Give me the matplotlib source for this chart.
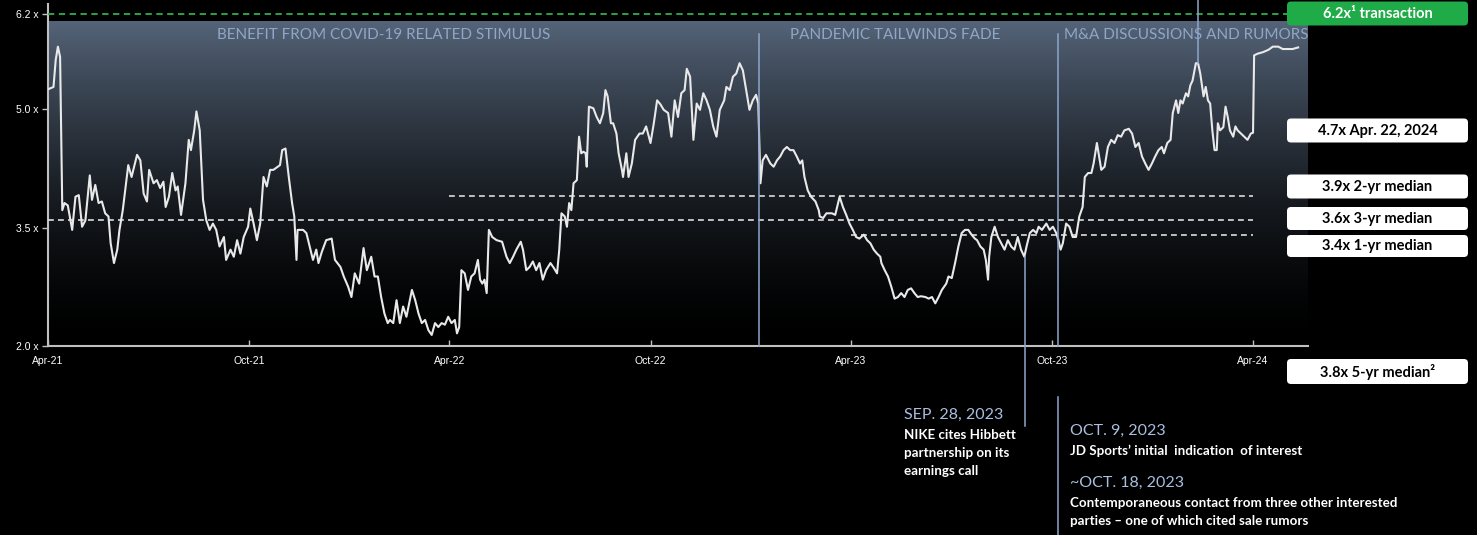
import matplotlib
matplotlib.use("Agg")
import matplotlib.pyplot as plt
import matplotlib.dates as mdates
from matplotlib.patches import FancyBboxPatch
import numpy as np
import pandas as pd

# EV / EBITDA multiple, days counted from 22-Apr-2021
start = pd.Timestamp("2021-04-22")
days = [
    0, 5, 7, 9, 11, 13, 15, 18, 22, 25, 28, 31, 34, 38, 40, 43, 46, 49, 52, 55,
    57, 60, 63, 65, 68, 73, 76, 81, 84, 87, 90, 92, 96, 99, 102, 105, 107, 110, 113, 116,
    118, 121, 125, 128, 130, 133, 135, 138, 141, 144, 147, 150, 153, 156, 160, 162, 166, 169, 172, 175,
    178, 182, 184, 187, 190, 193, 196, 199, 202, 205, 209, 211, 213, 216, 219, 222, 224, 226, 227, 232,
    235, 238, 241, 244, 246, 249, 253, 258, 261, 266, 269, 273, 276, 279, 283, 287, 290, 294, 297, 300,
    303, 306, 309, 311, 314, 317, 320, 323, 326, 331, 334, 337, 340, 343, 346, 349, 352, 355, 358, 361,
    364, 367, 370, 372, 374, 376, 379, 382, 385, 388, 391, 393, 395, 397, 399, 401, 404, 408, 413, 417,
    420, 423, 426, 430, 432, 435, 438, 441, 444, 447, 450, 453, 457, 460, 463, 465, 467, 470, 472, 474,
    476, 478, 481, 483, 485, 487, 489, 490, 492, 496, 499, 502, 505, 507, 509, 512, 514, 517, 519, 522,
    523, 526, 528, 531, 534, 538, 541, 544, 548, 551, 554, 557, 560, 564, 567, 570, 573, 576, 579, 581,
    584, 587, 590, 593, 596, 599, 602, 605, 608, 611, 615, 617, 620, 623, 626, 629, 632, 635, 638, 641,
    644, 646, 648, 650, 653, 657, 660, 663, 666, 669, 672, 675, 678, 681, 684, 686, 688, 691, 694, 698,
    701, 702, 705, 708, 713, 716, 720, 723, 726, 729, 732, 735, 738, 742, 745, 748, 751, 754, 757, 758,
    761, 764, 767, 770, 773, 776, 779, 782, 785, 788, 791, 794, 798, 801, 804, 807, 810, 813, 817, 819,
    822, 825, 828, 831, 834, 837, 840, 843, 845, 848, 851, 853, 855, 856, 858, 861, 864, 867, 870, 873,
    876, 879, 882, 885, 888, 890, 893, 896, 899, 901, 904, 908, 911, 914, 917, 919, 921, 923, 926, 929,
    932, 935, 938, 941, 943, 946, 949, 951, 954, 956, 958, 961, 964, 967, 970, 973, 976, 979, 983, 986,
    989, 992, 995, 998, 1001, 1004, 1007, 1010, 1013, 1015, 1018, 1021, 1023, 1026, 1028, 1030, 1032, 1035, 1037, 1039,
    1041, 1044, 1046, 1048, 1051, 1053, 1055, 1057, 1059, 1061, 1063, 1064, 1066, 1069, 1071, 1073, 1075, 1078, 1080, 1082,
    1085, 1088, 1091, 1094, 1096, 1097, 1100, 1105, 1110, 1114, 1119, 1123, 1128, 1132, 1137,
]
multiple = [
    5.25, 5.28, 5.62, 5.79, 5.66, 3.72, 3.81, 3.78, 3.47, 3.89, 3.91, 3.51, 3.59, 4.16, 3.85, 4.04, 3.81, 3.83, 3.68, 3.64,
    3.30, 3.05, 3.22, 3.47, 3.72, 4.29, 4.14, 4.42, 4.35, 3.93, 3.83, 4.23, 4.06, 4.10, 4.00, 4.08, 3.76, 3.89, 4.19, 3.97,
    4.02, 3.66, 4.06, 4.61, 4.48, 4.73, 4.97, 4.73, 3.85, 3.59, 3.47, 3.55, 3.47, 3.26, 3.38, 3.09, 3.22, 3.13, 3.34, 3.17,
    3.38, 3.51, 3.74, 3.55, 3.34, 3.55, 4.14, 4.02, 4.23, 4.23, 4.27, 4.29, 4.48, 4.50, 4.14, 3.81, 3.64, 3.09, 3.47, 3.47,
    3.43, 3.26, 3.09, 3.22, 3.05, 3.19, 3.34, 3.36, 3.09, 3.00, 2.88, 2.75, 2.62, 2.92, 2.79, 3.24, 2.96, 3.13, 2.88, 2.88,
    2.62, 2.41, 2.29, 2.33, 2.29, 2.58, 2.29, 2.50, 2.37, 2.71, 2.58, 2.41, 2.29, 2.33, 2.20, 2.14, 2.29, 2.24, 2.29, 2.27,
    2.37, 2.29, 2.33, 2.16, 2.24, 2.96, 2.92, 2.71, 2.88, 2.92, 3.09, 2.84, 2.79, 2.84, 2.67, 3.47, 3.38, 3.34, 3.32, 3.13,
    3.05, 3.13, 3.22, 3.32, 3.22, 2.96, 3.00, 3.07, 2.96, 3.05, 2.84, 2.96, 3.05, 2.99, 2.92, 3.22, 3.68, 3.64, 3.51, 3.81,
    3.72, 4.06, 4.10, 4.65, 4.44, 4.46, 4.44, 4.27, 5.03, 5.01, 4.90, 4.82, 4.95, 5.24, 5.16, 4.82, 4.82, 4.69, 4.44, 4.23,
    4.14, 4.44, 4.14, 4.31, 4.61, 4.69, 4.69, 4.78, 4.57, 4.82, 5.11, 5.06, 4.99, 4.95, 4.65, 5.11, 4.90, 5.20, 5.24, 5.51,
    5.41, 4.61, 5.07, 4.99, 5.20, 5.11, 4.99, 4.78, 4.65, 4.99, 5.11, 5.28, 5.24, 5.41, 5.45, 5.58, 5.49, 5.24, 4.99, 5.11,
    5.18, 5.07, 4.06, 4.35, 4.42, 4.31, 4.27, 4.35, 4.40, 4.48, 4.52, 4.48, 4.48, 4.40, 4.31, 4.35, 4.14, 3.97, 3.89, 3.83,
    3.72, 3.64, 3.62, 3.68, 3.68, 3.66, 3.89, 3.76, 3.66, 3.55, 3.47, 3.38, 3.36, 3.41, 3.34, 3.30, 3.22, 3.17, 3.13, 3.05,
    2.96, 2.88, 2.75, 2.60, 2.62, 2.67, 2.62, 2.71, 2.73, 2.67, 2.62, 2.63, 2.62, 2.60, 2.62, 2.54, 2.62, 2.71, 2.79, 2.88,
    2.86, 3.05, 3.26, 3.43, 3.47, 3.47, 3.41, 3.36, 3.34, 3.26, 3.22, 3.09, 2.84, 3.13, 3.38, 3.51, 3.38, 3.30, 3.22, 3.34,
    3.26, 3.22, 3.38, 3.22, 3.13, 3.26, 3.43, 3.47, 3.43, 3.51, 3.47, 3.55, 3.47, 3.51, 3.43, 3.34, 3.22, 3.30, 3.55, 3.51,
    3.38, 3.38, 3.64, 3.76, 4.14, 4.19, 4.19, 4.31, 4.57, 4.40, 4.23, 4.27, 4.52, 4.61, 4.57, 4.67, 4.65, 4.73, 4.75, 4.69,
    4.52, 4.57, 4.40, 4.31, 4.23, 4.31, 4.40, 4.48, 4.52, 4.44, 4.57, 4.61, 4.95, 5.11, 4.95, 5.11, 5.07, 5.20, 5.16, 5.30,
    5.36, 5.58, 5.58, 5.45, 5.16, 5.28, 5.11, 5.07, 4.73, 4.48, 4.48, 4.82, 4.73, 4.77, 5.03, 4.90, 4.73, 4.65, 4.78, 4.73,
    4.69, 4.65, 4.61, 4.69, 4.70, 5.68, 5.70, 5.72, 5.75, 5.79, 5.79, 5.76, 5.76, 5.76, 5.78,
]
dates = start + pd.to_timedelta(days, unit="D")

tick_dates = pd.to_datetime(["2021-04-22", "2021-10-22", "2022-04-22", "2022-10-22",
                             "2023-04-22", "2023-10-22", "2024-04-22"])
tick_labels = ["Apr-21", "Oct-21", "Apr-22", "Oct-22", "Apr-23", "Oct-23", "Apr-24"]
y_ticks = [2.0, 3.5, 5.0, 6.2]
y_tick_labels = ["2.0 x", "3.5 x", "5.0 x", "6.2 x"]

transaction_multiple = 6.2
median_values = [3.9, 3.6, 3.4]
median_starts = pd.to_datetime(["2022-04-22", "2021-04-22", "2023-04-22"])
median_end = pd.Timestamp("2024-04-22")
median_labels = ["3.9x 2-yr median", "3.6x 3-yr median", "3.4x 1-yr median"]
unaffected_label = "4.7x Apr. 22, 2024"
five_yr_label = "3.8x 5-yr median\u00b2"
transaction_label = "6.2x\u00b9 transaction"

phase_names = ["BENEFIT FROM COVID-19 RELATED STIMULUS", "PANDEMIC TAILWINDS FADE",
               "M&A DISCUSSIONS AND RUMORS"]
fade_start = pd.Timestamp("2023-01-29")
ma_start = pd.Timestamp("2023-10-28")
nike_date = pd.Timestamp("2023-09-28")
peak_date = pd.Timestamp("2024-03-03")

W, H = 1477, 535
fig = plt.figure(figsize=(W / 100, H / 100), dpi=100, facecolor="black")


def fx(x):
    return x / W


def fy(y):
    return 1 - y / H


ax = fig.add_axes([fx(48), fy(346), (1308 - 48) / W, (346 - 4) / H])
ax.set_facecolor("black")
x0, x1 = start, start + pd.Timedelta(days=1146)

# slate panel fading to black towards the bottom
t = np.linspace(1, 0, 300) ** 1.6
top = np.array([0.33, 0.39, 0.47])
grad = (t[:, None] * top[None, :])[:, None, :]
ax.imshow(grad, extent=[mdates.date2num(x0), mdates.date2num(x1), 2.0, 6.11],
          aspect="auto", zorder=0, interpolation="bilinear")

ax.plot(dates, multiple, color="#e9e9e9", lw=1.5, zorder=4, solid_joinstyle="round")

for v, s in zip(median_values, median_starts):
    ax.plot([s, median_end], [v, v], color="#dcdcdc", lw=1.2, ls=(0, (3.5, 2.5)), zorder=3)

ax.plot([x0, start + pd.Timedelta(days=1127)], [transaction_multiple] * 2,
        color="#2fae4e", lw=1.3, ls=(0, (3.5, 2.5)), clip_on=False, zorder=3)

line_kw = dict(color="#8ea6cc", lw=1.1, zorder=5, clip_on=False)
ax.plot([fade_start, fade_start], [2.0, 5.95], **line_kw)
ax.plot([ma_start, ma_start], [2.0, 5.95], **line_kw)
ax.plot([ma_start, ma_start], [1.35, -0.4], **line_kw)
ax.plot([nike_date, nike_date], [3.13, 0.99], **line_kw)
ax.plot([peak_date, peak_date], [5.58, 6.4], **line_kw)

ax.set_xlim(x0, x1)
ax.set_ylim(2.0, 6.33)
ax.set_xticks(tick_dates)
ax.set_xticklabels(tick_labels)
ax.set_yticks(y_ticks)
ax.set_yticklabels(y_tick_labels)
for lab in ax.get_xticklabels() + ax.get_yticklabels():
    lab.set_family("Liberation Sans")
ax.tick_params(axis="x", direction="in", length=4, width=1, color="#c0c0c0",
               labelsize=7.5, labelcolor="white", pad=7)
ax.tick_params(axis="y", direction="out", length=4, width=1, color="#c0c0c0",
               labelsize=7.5, labelcolor="white", pad=3)
for side in ["top", "right"]:
    ax.spines[side].set_visible(False)
for side in ["left", "bottom"]:
    ax.spines[side].set_color("#c0c0c0")
    ax.spines[side].set_linewidth(1.5)

# phase headings
head_kw = dict(color="#90a6c6", fontsize=11, family="Lato", va="center")
fig.text(fx(384), fy(35), phase_names[0], ha="center", **head_kw)
fig.text(fx(895), fy(35), phase_names[1], ha="center", **head_kw)
fig.text(fx(1064), fy(35), phase_names[2], ha="left", **head_kw)


# call-out boxes on the right
def box(yc, text, face, color, h=24):
    x, w = 1287, 181
    patch = FancyBboxPatch((x / 100, (H - yc - h / 2) / 100), w / 100, h / 100,
                           boxstyle="round,pad=0,rounding_size=0.04",
                           transform=fig.dpi_scale_trans, facecolor=face,
                           edgecolor="none", zorder=10)
    fig.patches.append(patch)
    fig.text(fx(x + w / 2), fy(yc), text, ha="center", va="center", color=color,
             fontsize=10.5, family="Lato", fontweight="bold", zorder=11)


box(13.5, transaction_label, "#1fab48", "white")
box(130.5, unaffected_label, "white", "black")
box(186.5, median_labels[0], "white", "black")
box(218.5, median_labels[1], "white", "black", h=23)
box(246, median_labels[2], "white", "black", h=22)
box(371.5, five_yr_label, "white", "black", h=25)

# event notes under the axis
date_kw = dict(color="#aabfe0", fontsize=11.5, family="Lato", va="center", ha="left")
body_kw = dict(color="white", fontsize=9.6, family="Lato", fontweight="bold",
               va="center", ha="left")
fig.text(fx(904), fy(415), "SEP. 28, 2023", **date_kw)
fig.text(fx(904), fy(435), "NIKE cites Hibbett", **body_kw)
fig.text(fx(904), fy(453), "partnership on its", **body_kw)
fig.text(fx(904), fy(471), "earnings call", **body_kw)
fig.text(fx(1070), fy(431), "OCT. 9, 2023", **date_kw)
fig.text(fx(1070), fy(451), "JD Sports\u2019 initial  indication  of interest", **body_kw)
fig.text(fx(1070), fy(483), "~OCT. 18, 2023", **date_kw)
fig.text(fx(1070), fy(503), "Contemporaneous contact from three other interested", **body_kw)
fig.text(fx(1070), fy(521), "parties \u2013 one of which cited sale rumors", **body_kw)

fig.savefig("out.png", dpi=100, facecolor="black")
